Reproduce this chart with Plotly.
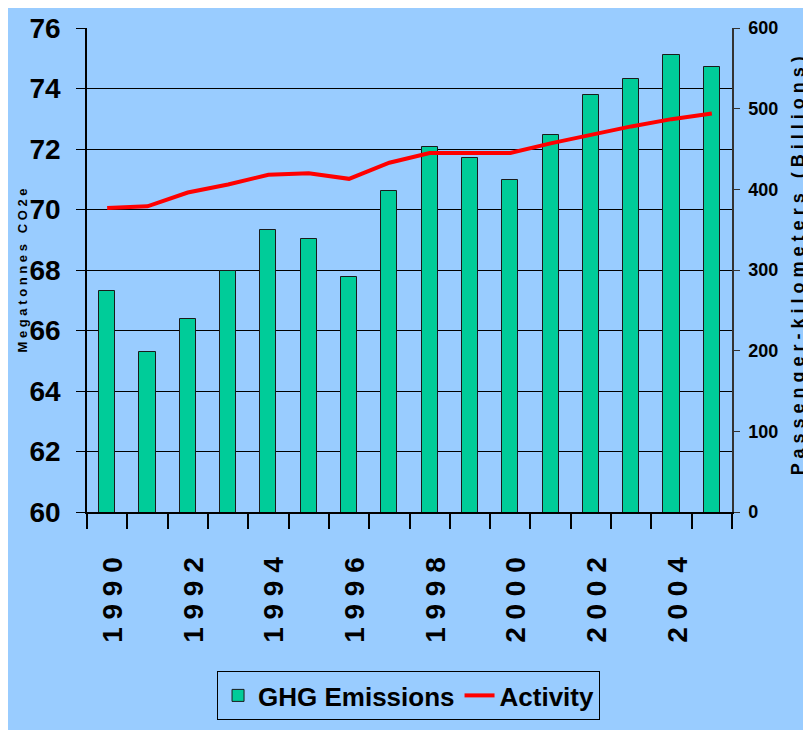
import plotly.graph_objects as go

# Data
years = list(range(1990, 2006))
ghg_emissions = [67.32, 65.28, 66.37, 67.98, 69.32, 69.01, 67.78, 70.62,
                 72.08, 71.70, 70.96, 72.46, 73.79, 74.30, 75.11, 74.72]
activity = [377, 379, 396, 406, 418, 420, 413, 433,
            445, 445, 445, 457, 468, 478, 487, 494]
label_years = [1990, 1992, 1994, 1996, 1998, 2000, 2002, 2004]
tick_text = [" ".join(str(y)) for y in label_years]
boundaries = [y - 0.5 for y in years] + [years[-1] + 0.5]

BG = "#99CCFF"
FONT = "Liberation Sans, Arial, sans-serif"


def spaced(text):
    return " ".join(text)


fig = go.Figure()

fig.add_trace(go.Bar(
    x=years, y=ghg_emissions, name="GHG Emissions",
    marker=dict(color="#00CC99", line=dict(color="#1a1a1a", width=1)),
    width=0.4, xaxis="x", yaxis="y",
))
fig.add_trace(go.Scatter(
    x=years, y=activity, name="Activity", mode="lines",
    line=dict(color="#FF0000", width=4), xaxis="x", yaxis="y2",
))

# the page body adds an 8px offset, so margins are shifted to keep the plot area in place
fig.update_layout(
    width=811, height=730,
    margin=dict(l=79, r=87, t=20, b=226),
    paper_bgcolor=BG, plot_bgcolor=BG,
    font=dict(family=FONT, color="black"),
    bargap=0,
    xaxis=dict(
        range=[1989.5, 2005.5], tickmode="array", tickvals=label_years,
        ticktext=tick_text, tickangle=-90, ticks="", showgrid=False,
        zeroline=False, showline=True, linecolor="black", linewidth=2,
        tickfont=dict(size=28, family=FONT, weight="bold"),
        ticklabelstandoff=32, ticklabelshift=6, automargin=False,
        minor=dict(tickmode="array", tickvals=boundaries, ticks="outside",
                   ticklen=15, tickwidth=1.5, tickcolor="black",
                   showgrid=False),
    ),
    yaxis=dict(
        range=[60, 76], dtick=2, showgrid=True, gridcolor="black",
        gridwidth=1, zeroline=False, showline=True, linecolor="black",
        linewidth=1.5, ticks="outside", ticklen=9, tickcolor="black",
        tickfont=dict(size=28, family=FONT, weight="bold"),
        ticklabelstandoff=10, automargin=False,
    ),
    yaxis2=dict(
        range=[0, 600], dtick=100, overlaying="y", side="right",
        showgrid=False, zeroline=False, showline=True, linecolor="#333333",
        linewidth=1.5, ticks="outside", ticklen=6, tickcolor="#333333",
        tickfont=dict(size=18, family=FONT, weight="bold"),
        ticklabelstandoff=5, automargin=False,
    ),
    legend=dict(
        orientation="h", x=0.2016, y=-0.3285, xanchor="left", yanchor="top",
        bgcolor=BG, bordercolor="black", borderwidth=1,
        font=dict(size=26, family=FONT, weight="bold"),
    ),
    showlegend=True,
    annotations=[
        dict(text=spaced("Megatonnes") + "   " + spaced("CO2e"),
             xref="paper", yref="paper", x=-0.1, y=0.498,
             xanchor="center", yanchor="middle",
             textangle=-90, showarrow=False,
             font=dict(size=13, family=FONT, weight="bold")),
        dict(text=spaced("Passenger-kilometers") + "   " + spaced("(Billions)"),
             xref="paper", yref="paper", x=1.1023, y=0.51,
             xanchor="center", yanchor="middle",
             textangle=-90, showarrow=False,
             font=dict(size=18, family=FONT, weight="bold")),
    ],
)

fig.write_html("out.html")
